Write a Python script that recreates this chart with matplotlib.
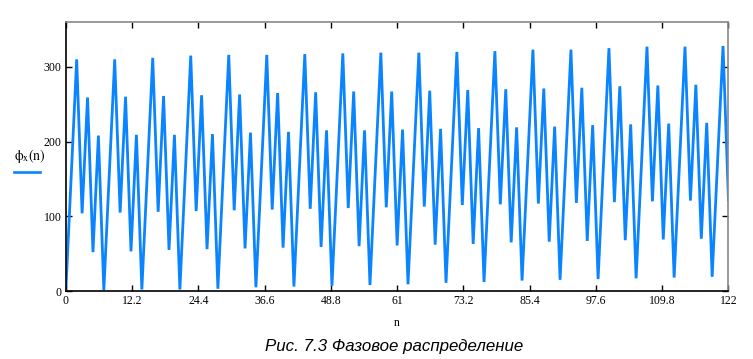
import matplotlib
matplotlib.use("Agg")
import matplotlib.pyplot as plt
import numpy as np

# ---- data, one period of 7 samples per row ----
phi_x = [
    0, 155, 310, 104, 259, 52, 208,
    1, 156, 310, 105, 260, 53, 209,
    2, 157, 312, 106, 261, 55, 209,
    2, 158, 315, 107, 262, 56, 210,
    3, 160, 316, 108, 263, 57, 212,
    5, 160, 316, 109, 265, 58, 213,
    6, 162, 317, 110, 266, 59, 215,
    7, 162, 318, 111, 267, 60, 215,
    8, 164, 319, 112, 267, 61, 216,
    9, 164, 319, 113, 268, 62, 217,
    11, 166, 320, 115, 269, 63, 218,
    12, 167, 321, 116, 270, 65, 219,
    14, 168, 323, 117, 271, 66, 220,
    15, 169, 323, 118, 272, 67, 222,
    16, 171, 325, 119, 274, 68, 223,
    17, 172, 327, 120, 275, 69, 224,
    18, 173, 327, 121, 276, 70, 225,
    19, 174, 328, 122,
]
n_values = list(range(len(phi_x)))

x_ticks = [0, 12.2, 24.4, 36.6, 48.8, 61, 73.2, 85.4, 97.6, 109.8, 122]
x_tick_labels = ["0", "12.2", "24.4", "36.6", "48.8", "61", "73.2", "85.4", "97.6", "109.8", "122"]
y_ticks = [0, 100, 200, 300]
y_tick_labels = ["0", "100", "200", "300"]

x_label = "n"
trace_label = r"$\mathrm{\phi}_{\mathrm{x}}\mathrm{(n)}$"
caption = "Рис. 7.3 Фазовое распределение"

# ---- style ----
plt.rcParams["mathtext.fontset"] = "stix"
serif = ["Liberation Serif", "DejaVu Serif"]
line_color = "#0a84ff"

fig = plt.figure(figsize=(7.53, 3.59), dpi=100)
ax = fig.add_axes([0.0874, 0.1894, 0.880, 0.7493])

ax.plot(n_values, phi_x, color=line_color, lw=2.0, solid_joinstyle="bevel")

ax.set_xlim(0, 122)
ax.set_ylim(0, 360)
ax.set_xticks(x_ticks)
ax.set_xticklabels(x_tick_labels, family=serif, fontsize=8.5)
ax.set_yticks(y_ticks)
ax.set_yticklabels(y_tick_labels, family=serif, fontsize=8.5)

ax.tick_params(direction="in", length=4, width=1, top=True, right=True,
               labeltop=False, labelright=False, pad=3)
for t in ax.xaxis.get_major_ticks():
    t.tick1line.set_color("#555555")
    t.tick2line.set_color("#888888")
for t in ax.yaxis.get_major_ticks():
    t.tick1line.set_color("black")
    t.tick2line.set_color("black")

ax.spines["left"].set_color("black")
ax.spines["bottom"].set_color("black")
ax.spines["top"].set_color("#888888")
ax.spines["right"].set_color("#888888")
for s in ax.spines.values():
    s.set_linewidth(1.2)

ax.set_xlabel(x_label, family=serif, fontsize=8.5, labelpad=7)

# trace label on the left (Mathcad style)
fig.text(30 / 753, 1 - 156 / 359, trace_label, fontsize=10, ha="center", va="center")
fig.add_artist(plt.Line2D([14 / 753, 40 / 753], [1 - 172 / 359, 1 - 172 / 359],
                          color=line_color, lw=1.9, transform=fig.transFigure))

fig.text(394 / 753, 1 - 346 / 359, caption, family=["Liberation Sans", "DejaVu Sans"],
         style="italic", fontsize=12.2, ha="center", va="center")

fig.savefig("out.png", dpi=100)
